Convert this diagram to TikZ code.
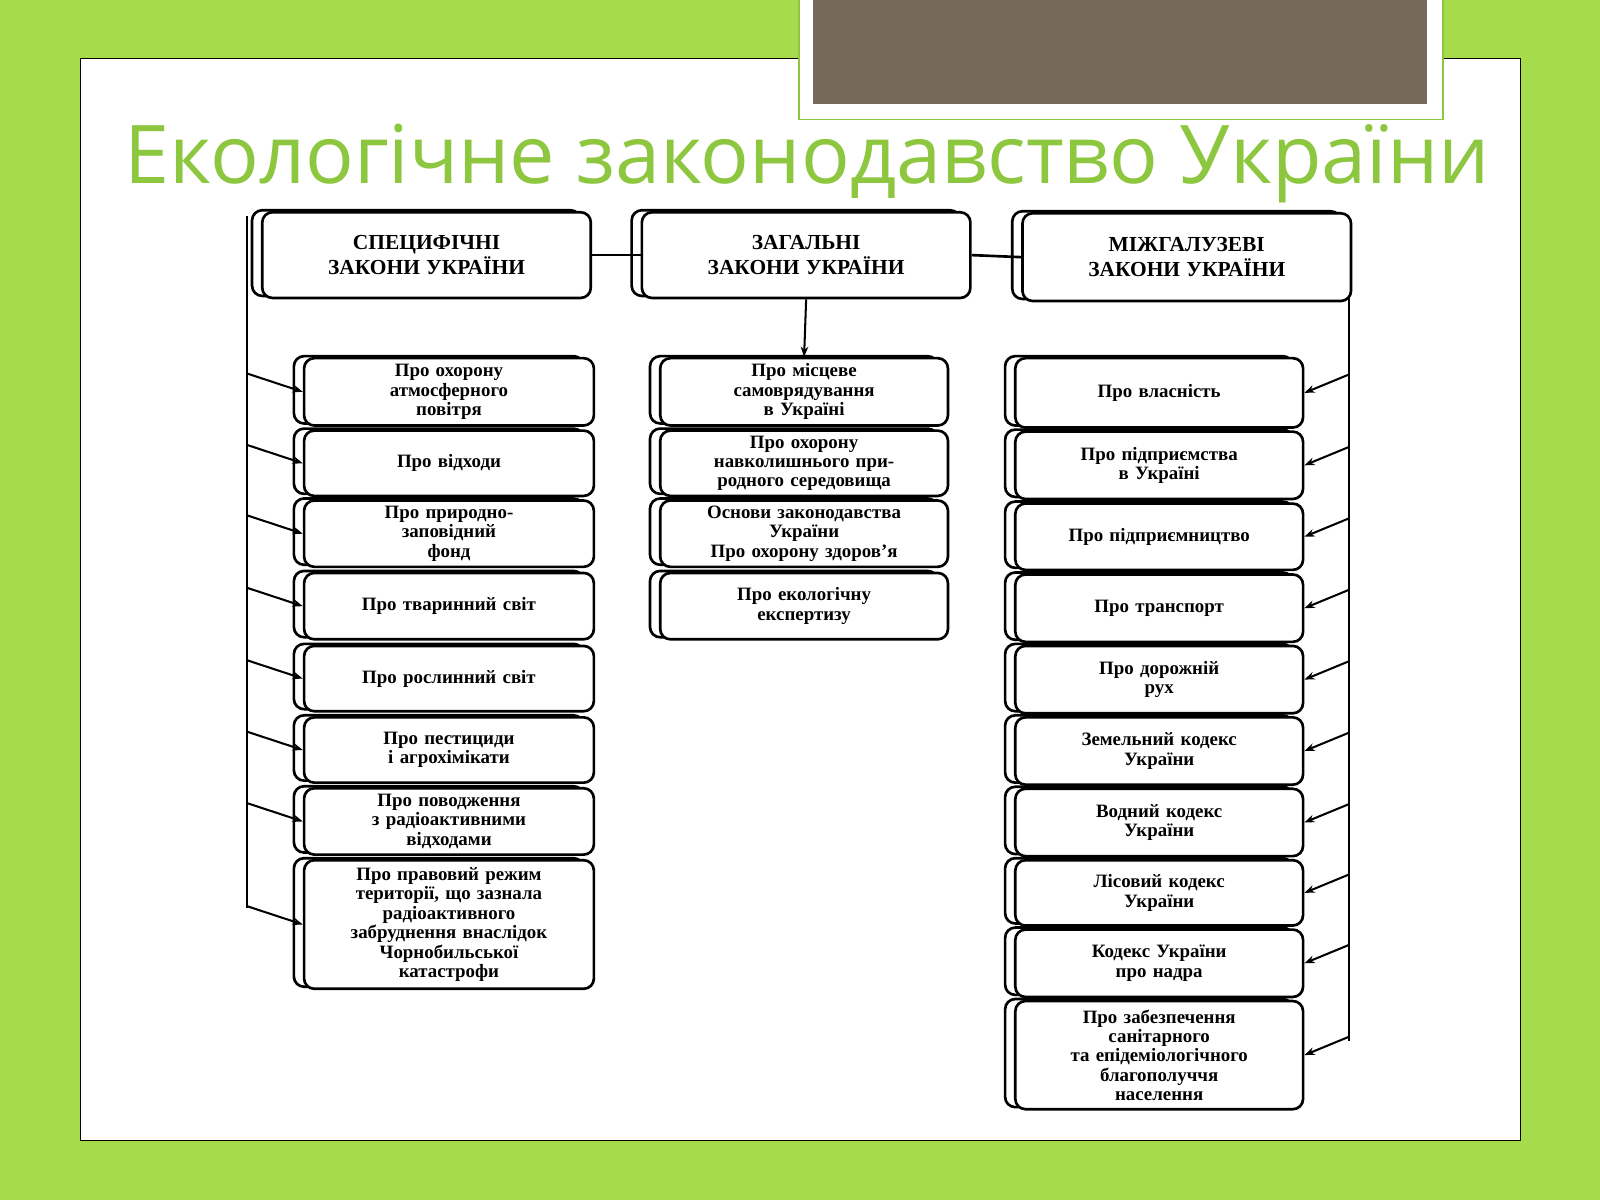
\documentclass[tikz,border=0pt]{standalone}
\usepackage{fontspec}
\setmainfont{Liberation Serif}
\newfontfamily\titlefont{Open Sans}
\usetikzlibrary{shadows,arrows.meta}
\definecolor{bg}{HTML}{A6DC4C}
\definecolor{ttl}{HTML}{8DC63F}
\definecolor{brn}{HTML}{76695A}
\newcommand{\hdf}{\fontsize{21}{25}\selectfont}
\tikzset{
 bx/.style={draw=black,line width=2.6pt,rounded corners=10pt,fill=white,align=center,
   font=\bfseries\fontsize{18.5}{19}\selectfont,inner sep=2pt,
   copy shadow={shadow xshift=-10pt,shadow yshift=2pt,fill=white,draw=black,line width=2.6pt}},
 ln/.style={line width=2.6pt},
 ar/.style={line width=2pt,-{Stealth[length=10pt]}}
}
\newcommand{\bxn}[6]{\node[bx,minimum width=#3pt,minimum height=#4pt,text width=#5pt] (#1) at (#2) {#6};}
\begin{document}
\begin{tikzpicture}[x=1pt,y=-1pt]
\useasboundingbox (0,0) rectangle (1568,1176);
\fill[bg] (0,0) rectangle (1568,1176);
\fill[white] (79,57) rectangle (1490,1118);
\draw[black,line width=1pt] (79,57) rectangle (1490,1118);
\fill[white] (783,0) rectangle (1414,117);
\draw[ttl,line width=1.5pt] (783,0) -- (783,117) -- (1414,117) -- (1414,0);
\fill[brn] (797,0) rectangle (1398,102);
\node[anchor=base west,text=ttl,inner sep=0] (title) at (122,180)
  {\resizebox{1338pt}{!}{\titlefont\fontsize{80}{80}\selectfont Екологічне законодавство України}};
% headers
\bxn{hl}{418,250}{322}{84}{300}{\hdf СПЕЦИФІЧНІ\\ЗАКОНИ УКРАЇНИ\par}
\bxn{hc}{790,250}{322}{84}{300}{\hdf ЗАГАЛЬНІ\\ЗАКОНИ УКРАЇНИ\par}
\bxn{hr}{1163,252}{322}{86}{300}{\hdf МІЖГАЛУЗЕВІ\\ЗАКОНИ УКРАЇНИ\par}
\draw[ln] (hl.east) -- (hc.west);
\draw[ln] (hc.east) -- (hr.west);
% left column
\foreach \n/\y/\h/\t in {l1/384/66/{Про охорону\\атмосферного\\повітря},
  l2/454/64/{Про відходи},
  l3/523/65/{Про природно-\\заповідний\\фонд},
  l4/594/65/{Про тваринний світ},
  l5/665/64/{Про рослинний світ},
  l6/735/64/{Про пестициди\\і агрохімікати},
  l7/805/65/{Про поводження\\з радіоактивними\\відходами},
  l8/906/126/{Про правовий режим\\території, що зазнала\\радіоактивного\\забруднення внаслідок\\Чорнобильської\\катастрофи}}{
  \bxn{\n}{440,\y}{282}{\h}{280}{\t}
  \draw[ar] (242,\y-18) -- (\n.west);
}
\coordinate (ls1) at (242,212);
\coordinate (ls2) at (242,890);
\draw[ln] (ls1) -- (ls2);
% middle
\foreach \n/\y/\h/\t in {m1/384/66/{Про місцеве\\самоврядування\\в Україні},
  m2/454/64/{Про охорону\\навколишнього при-\\родного середовища},
  m3/523/65/{Основи законодавства\\України\\Про охорону здоров'я},
  m4/594/65/{Про екологічну\\експертизу}}{
  \bxn{\n}{788,\y}{280}{\h}{278}{\t}
}
\draw[ar] (hc.south) -- (m1.north);
% right column
\foreach \n/\y/\h/\t in {r1/385/68/{Про власність},
  r2/456/66/{Про підприємства\\в Україні},
  r3/526/65/{Про підприємництво},
  r4/596/66/{Про транспорт},
  r5/666/66/{Про дорожній\\рух},
  r6/736/66/{Земельний кодекс\\України},
  r7/806/66/{Водний кодекс\\України},
  r8/875/64/{Лісовий кодекс\\України},
  r9/944/66/{Кодекс України\\про надра},
  r10/1034/106/{Про забезпечення\\санітарного\\та епідеміологічного\\благополуччя\\населення}}{
  \bxn{\n}{1136,\y}{280}{\h}{278}{\t}
  \draw[ar] (1322,\y-18) -- (\n.east);
}
\coordinate (rs1) at (1322,290);
\coordinate (rs2) at (1322,1020);
\draw[ln] (rs1) -- (rs2);
\end{tikzpicture}
\end{document}
